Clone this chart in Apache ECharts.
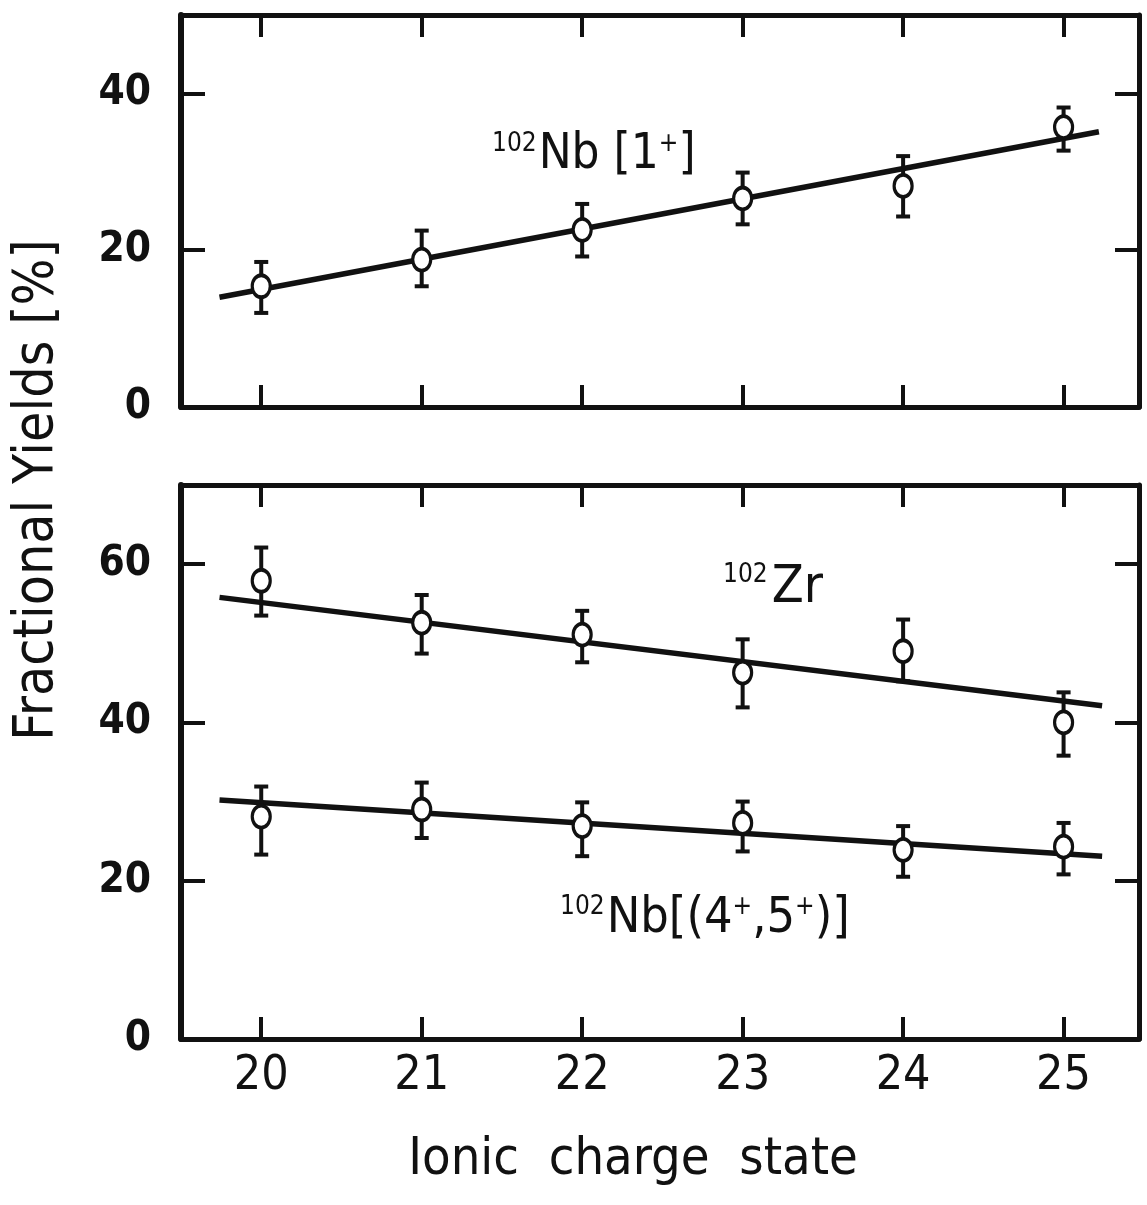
<!DOCTYPE html>
<html>
<head>
<meta charset="utf-8">
<style>
  html, body { margin: 0; padding: 0; background: #fff; }
  #chart { width: 1147px; height: 1205px; }
</style>
<script src="https://cdn.jsdelivr.net/npm/echarts@6/dist/echarts.min.js"></script>
</head>
<body>
<div id="chart"></div>
<script>
// ionic charge states
const charges = [20, 21, 22, 23, 24, 25]

// 102Nb [1+]
const nb1Yield = [15.4, 18.8, 22.6, 26.6, 28.2, 35.7]
const nb1Low = [12.0, 15.4, 19.2, 23.3, 24.3, 32.7]
const nb1High = [18.5, 22.5, 25.9, 29.9, 32.0, 38.2]
const nb1Fit = [[19.74, 14.0], [25.22, 35.1]]

// 102Zr
const zrYield = [57.9, 52.6, 51.1, 46.3, 49.0, 40.0]
const zrLow = [53.5, 48.7, 47.6, 41.9, 45.2, 35.8]
const zrHigh = [62.1, 56.1, 54.1, 50.5, 53.0, 43.8]
const zrFit = [[19.74, 55.8], [25.24, 42.1]]

// 102Nb [(4+,5+)]
const nb45Yield = [28.1, 29.0, 26.9, 27.3, 23.9, 24.3]
const nb45Low = [23.3, 25.4, 23.1, 23.7, 20.5, 20.8]
const nb45High = [31.9, 32.4, 29.9, 30.0, 26.9, 27.3]
const nb45Fit = [[19.74, 30.2], [25.24, 23.1]]

const topTicks = [0, 20, 40]
const bottomTicks = [0, 20, 40, 60]

const FONT = "'Liberation Sans Narrow', 'DejaVu Sans Condensed', sans-serif"
const INK = '#111'

const chart = echarts.init(document.getElementById('chart'))

function xAxis(gridIndex, position, withLabels) {
  return {
    type: 'value',
    gridIndex: gridIndex,
    position: position,
    min: 19.5,
    max: 25.47,
    axisLine: { show: true, onZero: false, lineStyle: { color: INK, width: 5 } },
    axisTick: {
      show: true, inside: true, length: 22, customValues: charges,
      lineStyle: { color: INK, width: 4 }
    },
    axisLabel: {
      show: withLabels, customValues: charges, margin: 14,
      color: INK, fontFamily: FONT, fontSize: 48
    },
    splitLine: { show: false }
  }
}

function yAxis(gridIndex, position, max, ticks, withLabels) {
  return {
    type: 'value',
    gridIndex: gridIndex,
    position: position,
    min: 0,
    max: max,
    axisLine: { show: true, onZero: false, lineStyle: { color: INK, width: position === 'left' ? 6 : 5 } },
    axisTick: {
      show: true, inside: true, length: 24, customValues: ticks.slice(1),
      lineStyle: { color: INK, width: 4 }
    },
    axisLabel: {
      show: withLabels, customValues: ticks, margin: 30,
      color: INK, fontFamily: FONT, fontSize: 42, fontWeight: 'bold'
    },
    splitLine: { show: false }
  }
}

function toBars(low, high) {
  return charges.map((c, i) => [c, low[i], high[i]])
}

function errorSeries(xi, yi, low, high) {
  return {
    type: 'custom',
    xAxisIndex: xi,
    yAxisIndex: yi,
    data: toBars(low, high),
    z: 3,
    renderItem(params, api) {
      const lo = api.coord([api.value(0), api.value(1)])
      const hi = api.coord([api.value(0), api.value(2)])
      const w = 7
      const style = { stroke: INK, lineWidth: 4 }
      return {
        type: 'group',
        children: [
          { type: 'line', shape: { x1: lo[0], y1: lo[1], x2: hi[0], y2: hi[1] }, style },
          { type: 'line', shape: { x1: lo[0] - w, y1: lo[1], x2: lo[0] + w, y2: lo[1] }, style },
          { type: 'line', shape: { x1: hi[0] - w, y1: hi[1], x2: hi[0] + w, y2: hi[1] }, style }
        ]
      }
    }
  }
}

function pointSeries(xi, yi, values) {
  return {
    type: 'scatter',
    xAxisIndex: xi,
    yAxisIndex: yi,
    data: charges.map((c, i) => [c, values[i]]),
    symbol: 'circle',
    symbolSize: [18, 22],
    itemStyle: { color: '#fff', borderColor: INK, borderWidth: 3.5, opacity: 1 },
    z: 5
  }
}

function fitSeries(xi, yi, pts) {
  return {
    type: 'line',
    xAxisIndex: xi,
    yAxisIndex: yi,
    data: pts,
    showSymbol: false,
    lineStyle: { color: INK, width: 5.5 },
    z: 2
  }
}

chart.setOption({
  animation: false,
  backgroundColor: '#fff',
  grid: [
    { left: 181, right: 8, top: 15, height: 392 },
    { left: 181, right: 8, top: 485, height: 554 }
  ],
  xAxis: [
    xAxis(0, 'bottom', false),
    xAxis(0, 'top', false),
    xAxis(1, 'bottom', true),
    xAxis(1, 'top', false)
  ],
  yAxis: [
    yAxis(0, 'left', 50, topTicks, true),
    yAxis(0, 'right', 50, topTicks, false),
    yAxis(1, 'left', 70, bottomTicks, true),
    yAxis(1, 'right', 70, bottomTicks, false)
  ],
  series: [
    fitSeries(0, 0, nb1Fit),
    errorSeries(0, 0, nb1Low, nb1High),
    pointSeries(0, 0, nb1Yield),
    fitSeries(2, 2, zrFit),
    errorSeries(2, 2, zrLow, zrHigh),
    pointSeries(2, 2, zrYield),
    fitSeries(2, 2, nb45Fit),
    errorSeries(2, 2, nb45Low, nb45High),
    pointSeries(2, 2, nb45Yield)
  ],
  graphic: [
    {
      type: 'text', x: 633, y: 1160,
      style: {
        text: 'Ionic  charge  state', fill: INK, font: '52px ' + FONT,
        align: 'center', verticalAlign: 'middle'
      }
    },
    {
      type: 'text', x: 38, y: 490, rotation: Math.PI / 2,
      style: {
        text: 'Fractional Yields [%]', fill: INK, font: '55px ' + FONT,
        align: 'center', verticalAlign: 'middle'
      }
    },
    {
      type: 'text', x: 492, y: 180,
      style: {
        text: '{s|102}{b|Nb [1}{p|+}{b|]}', fill: INK, verticalAlign: 'bottom',
        rich: {
          s: { fontFamily: FONT, fontSize: 26, verticalAlign: 'top', padding: [0, 2, 18, 0] },
          b: { fontFamily: FONT, fontSize: 49 },
          p: { fontFamily: FONT, fontSize: 26, verticalAlign: 'top', padding: [0, 0, 18, 0] }
        }
      }
    },
    {
      type: 'text', x: 723, y: 614,
      style: {
        text: '{s|102}{b|Zr}', fill: INK, verticalAlign: 'bottom',
        rich: {
          s: { fontFamily: FONT, fontSize: 26, verticalAlign: 'top', padding: [0, 4, 18, 0] },
          b: { fontFamily: FONT, fontSize: 52 }
        }
      }
    },
    {
      type: 'text', x: 560, y: 944,
      style: {
        text: '{s|102}{b|Nb[(4}{p|+}{b|,5}{p|+}{b|)]}', fill: INK, verticalAlign: 'bottom',
        rich: {
          s: { fontFamily: FONT, fontSize: 26, verticalAlign: 'top', padding: [0, 2, 18, 0] },
          b: { fontFamily: FONT, fontSize: 50 },
          p: { fontFamily: FONT, fontSize: 26, verticalAlign: 'top', padding: [0, 0, 18, 0] }
        }
      }
    }
  ]
})
</script>
</body>
</html>
